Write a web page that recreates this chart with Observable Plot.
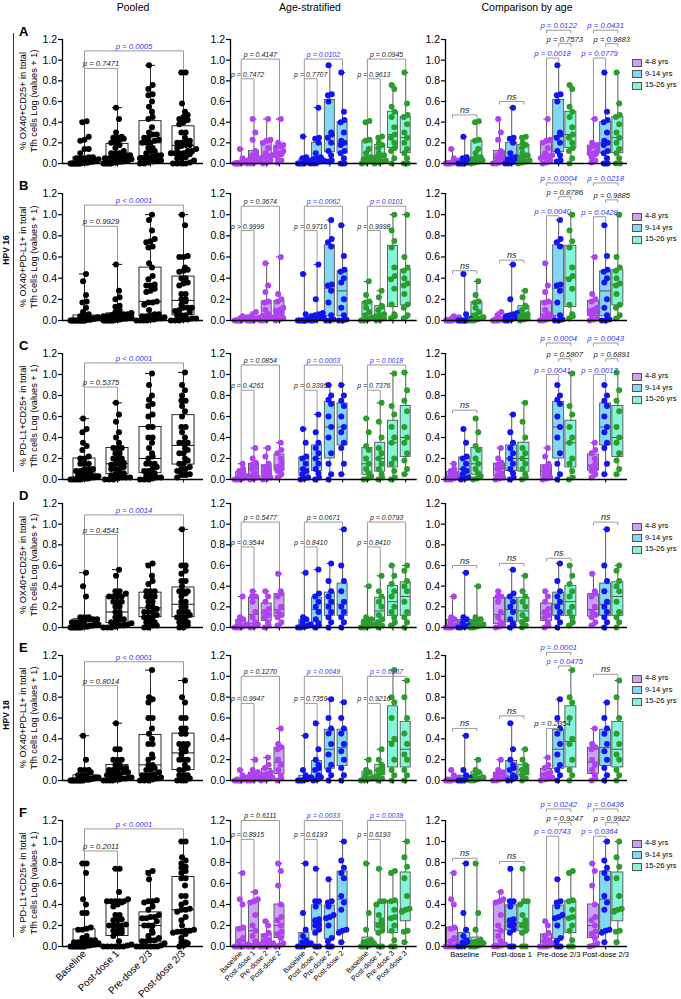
<!DOCTYPE html>
<html><head><meta charset="utf-8">
<script src="https://cdn.jsdelivr.net/npm/d3@7"></script>
<script src="https://cdn.jsdelivr.net/npm/@observablehq/plot@0.6"></script>
<style>
body{margin:0;background:#fff;font-family:"Liberation Sans",Arial,sans-serif;}
#page{position:relative;width:681px;height:999px;overflow:hidden;background:#fff;}
.abs{position:absolute;white-space:nowrap;color:#000;}
</style></head><body><div id="page"></div><script>
// ---------------- categories / labels ----------------
const timepoints = ["Baseline","Post-dose 1","Pre-dose 2/3","Post-dose 2/3"];
const ageGroups = ["4-8 yrs","9-14 yrs","15-26 yrs"];
const stratTicks = ["Baseline","Post-dose 1","Pre-dose 2","Post-dose 2","Baseline","Post-dose 1","Pre-dose 2","Post-dose 2","Baseline","Post-dose 1","Pre-dose 3","Post-dose 3"];
const columnTitles = ["Pooled","Age-stratified","Comparison by age"];
const rowLetters = ["A","B","C","D","E","F"];
const rowYLabels = [
  ["% OX40+CD25+ in total","Tfh cells Log (values + 1)"],
  ["% OX40+PD-L1+ in total","Tfh cells Log (values + 1)"],
  ["% PD-L1+CD25+ in total","Tfh cells Log (values + 1)"],
  ["% OX40+CD25+ in total","Tfh cells Log (values + 1)"],
  ["% OX40+PD-L1+ in total","Tfh cells Log (values + 1)"],
  ["% PD-L1+CD25+ in total","Tfh cells Log (values + 1)"]
];
const hpvLabels = ["HPV 16","HPV 18"];
const yTicks = [0,0.2,0.4,0.6,0.8,1.0,1.2];

// ---------------- data: each array = [Baseline, Post-dose 1, Pre-dose, Post-dose] ----------------
const A_age4_8 = [
  [0,0,0,0,0.01,0.01,0.01,0.02,0.02,0.03,0.05,0.14],
  [0,0,0.01,0.02,0.03,0.04,0.06,0.08,0.1,0.12,0.23,0.3,0.43],
  [0,0.01,0.03,0.05,0.06,0.07,0.08,0.1,0.15,0.2,0.22,0.23,0.43],
  [0.01,0.03,0.06,0.09,0.1,0.1,0.12,0.15,0.17,0.18,0.2,0.43]];
const A_age9_14 = [
  [0,0,0,0,0.01,0.01,0.02,0.03,0.05,0.06,0.26],
  [0,0,0.01,0.02,0.03,0.04,0.05,0.06,0.1,0.2,0.24,0.25,0.54],
  [0.02,0.03,0.08,0.12,0.2,0.25,0.28,0.3,0.6,0.66,0.67,0.95],
  [0,0,0.05,0.1,0.12,0.18,0.2,0.22,0.3,0.4,0.42,0.5,0.88]];
const A_age15_26 = [
  [0,0.01,0.02,0.03,0.04,0.05,0.06,0.1,0.14,0.22,0.23,0.4,0.41],
  [0,0.01,0.02,0.03,0.05,0.07,0.08,0.1,0.15,0.18,0.2,0.25,0.26],
  [0,0.05,0.12,0.15,0.2,0.25,0.28,0.35,0.45,0.5,0.55,0.72,0.76],
  [0,0,0.05,0.1,0.14,0.2,0.25,0.3,0.38,0.45,0.47,0.58,0.88]];

const B_age4_8 = [
  [0,0,0,0,0,0.01,0.01,0.02,0.02,0.03,0.04],
  [0,0,0,0,0.01,0.01,0.02,0.02,0.03,0.05,0.08],
  [0,0,0.01,0.02,0.03,0.04,0.06,0.1,0.17,0.18,0.27,0.33,0.54],
  [0,0.01,0.02,0.05,0.08,0.09,0.1,0.12,0.18,0.2,0.25,0.6]];
const B_age9_14 = [
  [0,0,0,0,0,0,0.01,0.01,0.02,0.06,0.44],
  [0,0,0.01,0.02,0.03,0.03,0.04,0.05,0.06,0.07,0.2,0.53],
  [0,0,0.01,0.05,0.17,0.28,0.33,0.34,0.7,0.74,0.77,0.95],
  [0,0,0.01,0.05,0.12,0.2,0.36,0.4,0.46,0.48,0.61,0.9]];
const B_age15_26 = [
  [0,0,0.01,0.02,0.03,0.05,0.08,0.12,0.17,0.18,0.24,0.37],
  [0,0.01,0.02,0.04,0.05,0.06,0.1,0.13,0.14,0.22,0.28],
  [0.02,0.04,0.06,0.15,0.3,0.39,0.42,0.5,0.69,0.75,0.85,1.0],
  [0.02,0.05,0.12,0.15,0.25,0.33,0.35,0.4,0.47,0.5,0.6,1.0]];

const C_age4_8 = [
  [0,0,0,0.01,0.02,0.03,0.04,0.06,0.08,0.1,0.15],
  [0,0.01,0.02,0.04,0.06,0.1,0.12,0.14,0.16,0.2,0.3],
  [0,0.01,0.02,0.04,0.06,0.08,0.1,0.12,0.15,0.22,0.3],
  [0.02,0.05,0.08,0.1,0.12,0.15,0.2,0.25,0.28,0.35]];
const C_age9_14 = [
  [0,0.01,0.02,0.05,0.08,0.1,0.15,0.2,0.22,0.35,0.48],
  [0,0.02,0.06,0.1,0.15,0.2,0.25,0.3,0.35,0.45,0.62],
  [0,0.05,0.15,0.25,0.4,0.5,0.6,0.72,0.76,0.8,0.9],
  [0.05,0.15,0.3,0.35,0.45,0.5,0.6,0.7,0.75,0.8,0.9]];
const C_age15_26 = [
  [0,0.01,0.03,0.06,0.1,0.15,0.2,0.28,0.32,0.45,0.58],
  [0,0.02,0.05,0.1,0.15,0.2,0.25,0.3,0.4,0.55,0.73],
  [0,0.02,0.08,0.15,0.2,0.35,0.4,0.5,0.62,0.7,1.01],
  [0.05,0.1,0.18,0.25,0.35,0.4,0.5,0.65,0.75,0.85,1.02]];

const D_age4_8 = [
  [0,0,0,0.01,0.02,0.03,0.05,0.08,0.1,0.3],
  [0,0.01,0.03,0.05,0.1,0.15,0.25,0.3,0.3,0.35],
  [0,0.02,0.05,0.1,0.12,0.15,0.18,0.25,0.3,0.35],
  [0.02,0.05,0.1,0.12,0.15,0.2,0.3,0.33,0.35,0.52]];
const D_age9_14 = [
  [0,0,0.01,0.01,0.02,0.03,0.05,0.08,0.1,0.53],
  [0,0.02,0.04,0.08,0.15,0.2,0.25,0.3,0.33,0.56],
  [0,0.05,0.1,0.15,0.2,0.25,0.3,0.35,0.45,0.62],
  [0,0.05,0.1,0.15,0.2,0.25,0.35,0.45,0.6,0.95]];
const D_age15_26 = [
  [0,0,0.01,0.02,0.03,0.05,0.06,0.08,0.1,0.4],
  [0,0.02,0.05,0.08,0.12,0.2,0.25,0.3,0.35,0.5],
  [0.02,0.05,0.1,0.15,0.2,0.3,0.35,0.42,0.5,0.6],
  [0,0.05,0.1,0.15,0.25,0.35,0.4,0.45,0.55,0.6]];

const E_age4_8 = [
  [0,0,0,0,0.01,0.01,0.02,0.03,0.05,0.1],
  [0,0,0.01,0.02,0.03,0.05,0.06,0.08,0.1,0.2],
  [0,0.01,0.02,0.03,0.05,0.06,0.08,0.12,0.15,0.22],
  [0,0.02,0.05,0.1,0.15,0.2,0.3,0.32,0.35,0.5]];
const E_age9_14 = [
  [0,0,0,0.01,0.01,0.02,0.03,0.05,0.1,0.43],
  [0,0.01,0.03,0.05,0.1,0.12,0.15,0.2,0.3,0.55],
  [0,0.05,0.1,0.15,0.25,0.35,0.45,0.5,0.6,0.78],
  [0,0.05,0.12,0.2,0.28,0.35,0.45,0.5,0.6,0.75]];
const E_age15_26 = [
  [0,0,0.01,0.02,0.03,0.05,0.08,0.1,0.2],
  [0,0.02,0.05,0.08,0.1,0.12,0.15,0.2,0.3],
  [0,0.05,0.1,0.2,0.35,0.4,0.6,0.75,0.8,1.06],
  [0,0.05,0.1,0.2,0.25,0.35,0.45,0.6,0.8,0.96]];

const F_age4_8 = [
  [0,0,0,0,0.01,0.02,0.05,0.08,0.17,0.18,0.4,0.45,0.7],
  [0,0,0.01,0.02,0.05,0.1,0.15,0.2,0.3,0.42,0.43,0.45,0.52],
  [0,0,0,0.01,0.03,0.05,0.06,0.1,0.13,0.2,0.24],
  [0,0.01,0.03,0.08,0.12,0.14,0.2,0.25,0.28,0.4,0.58,0.72,0.79]];
const F_age9_14 = [
  [0,0,0.01,0.02,0.03,0.04,0.06,0.1,0.16,0.32,0.79],
  [0,0,0.13,0.16,0.2,0.21,0.25,0.26,0.38,0.43,0.43,0.74],
  [0,0,0.05,0.08,0.2,0.27,0.28,0.3,0.38,0.42,0.43,0.64],
  [0.04,0.13,0.15,0.16,0.35,0.42,0.48,0.65,0.7,0.75,0.82,1.0]];
const F_age15_26 = [
  [0,0,0,0.01,0.02,0.03,0.04,0.05,0.06,0.16,0.32,0.79],
  [0,0,0.13,0.15,0.2,0.2,0.25,0.3,0.4,0.43,0.43,0.74],
  [0,0,0.06,0.15,0.2,0.27,0.28,0.35,0.43,0.44,0.7,0.72],
  [0.04,0.14,0.15,0.33,0.35,0.36,0.48,0.65,0.76,0.85,1.0]];

const rowData = [
  [A_age4_8,A_age9_14,A_age15_26],[B_age4_8,B_age9_14,B_age15_26],[C_age4_8,C_age9_14,C_age15_26],
  [D_age4_8,D_age9_14,D_age15_26],[E_age4_8,E_age9_14,E_age15_26],[F_age4_8,F_age9_14,F_age15_26]];

// ---------------- significance annotations ----------------
const pooledP = [
  [["p = 0.7471",0,1,0.92,"k"],["p = 0.0005",0,3,1.09,"b"]],
  [["p = 0.9929",0,1,0.89,"k"],["p < 0.0001",0,3,1.09,"b"]],
  [["p = 0.5375",0,1,0.88,"k"],["p < 0.0001",0,3,1.11,"b"]],
  [["p = 0.4541",0,1,0.90,"k"],["p = 0.0014",0,3,1.09,"b"]],
  [["p = 0.8014",0,1,0.91,"k"],["p < 0.0001",0,3,1.14,"b"]],
  [["p = 0.2011",0,1,0.91,"k"],["p < 0.0001",0,3,1.12,"b"]]];
const ageLevels = [[0.82,1.01],[0.85,1.08],[0.85,1.09],[0.78,1.02],[0.74,1.0],[1.02,1.2]];
const ageP = [
  [["p = 0.7472","k","p = 0.4147","k"],["p = 0.7707","k","p = 0.0102","b"],["p = 0.9613","k","p = 0.0945","k"]],
  [["p > 0.9999","k","p = 0.3674","k"],["p = 0.9716","k","p = 0.0062","b"],["p = 0.9998","k","p = 0.0101","b"]],
  [["p = 0.4261","k","p = 0.0854","k"],["p = 0.3395","k","p = 0.0003","b"],["p = 0.7376","k","p = 0.0018","b"]],
  [["p = 0.9544","k","p = 0.5477","k"],["p = 0.8410","k","p = 0.0671","k"],["p = 0.8410","k","p = 0.0793","k"]],
  [["p = 0.9947","k","p = 0.1270","k"],["p = 0.7359","k","p = 0.0049","b"],["p = 0.9216","k","p = 0.0167","b"]],
  [["p = 0.8915","k","p = 0.6111","k"],["p = 0.6193","k","p = 0.0033","b"],["p = 0.6193","k","p = 0.0039","b"]]];
const compP = [
  [[0,0,2,0.47,"ns","k","s"],[1,0,2,0.60,"ns","k","s"],
   [2,0,1,1.02,"p = 0.0018","b","d"],[2,1,2,1.16,"p = 0.7573","k","s"],[2,0,2,1.29,"p = 0.0122","b","s"],
   [3,0,1,1.02,"p = 0.0779","b","d"],[3,1,2,1.16,"p = 0.9883","k","s"],[3,0,2,1.29,"p = 0.0431","b","s"]],
  [[0,0,2,0.47,"ns","k","s"],[1,0,2,0.57,"ns","k","s"],
   [2,0,1,0.99,"p = 0.0040","b","d"],[2,1,2,1.17,"p = 0.8786","k","s"],[2,0,2,1.30,"p = 0.0004","b","s"],
   [3,0,1,0.98,"p = 0.0428","b","d"],[3,1,2,1.14,"p = 0.9885","k","s"],[3,0,2,1.30,"p = 0.0218","b","s"]],
  [[0,0,2,0.66,"ns","k","s"],
   [2,0,1,1.00,"p = 0.0041","b","d"],[2,1,2,1.15,"p = 0.5807","k","s"],[2,0,2,1.30,"p = 0.0004","b","s"],
   [3,0,1,1.00,"p = 0.0017","b","d"],[3,1,2,1.15,"p = 0.6891","k","s"],[3,0,2,1.30,"p = 0.0043","b","s"]],
  [[0,0,2,0.60,"ns","k","s"],[1,0,2,0.62,"ns","k","s"],[2,0,2,0.67,"ns","k","s"],[3,0,2,1.02,"ns","k","s"]],
  [[0,0,2,0.50,"ns","k","s"],[1,0,2,0.62,"ns","k","s"],
   [2,0,1,0.50,"p = 0.2354","k","d"],[2,1,2,1.10,"p = 0.0475","b","s"],[2,0,2,1.23,"p = 0.0001","b","s"],
   [3,0,2,1.02,"ns","k","s"]],
  [[0,0,2,0.84,"ns","k","s"],[1,0,2,0.81,"ns","k","s"],
   [2,0,1,1.05,"p = 0.0743","b","d"],[2,1,2,1.18,"p = 0.9247","k","s"],[2,0,2,1.31,"p = 0.0242","b","s"],
   [3,0,1,1.05,"p = 0.0364","b","d"],[3,1,2,1.18,"p = 0.9922","k","s"],[3,0,2,1.31,"p = 0.0436","b","s"]]];

// ---------------- styles / layout ----------------
const dotColors = ["#b042f2","#1414f0","#2c9c2c"];
const boxFills = ["#caa2f2","#82d8f5","#84f5d8"];
const textColors = {k:"#222", b:"#3434f2"};
const rowY12 = [39,193,353,503,655,820];
const rowY0  = [163,320,479,627,780,946];
const page = document.getElementById("page");
const FONT = '"Liberation Sans", Arial, sans-serif';

function addText(txt, css) {
  const d = document.createElement("div");
  d.className = "abs"; d.innerHTML = txt;
  Object.assign(d.style, css);
  page.appendChild(d);
  return d;
}

function stats(v) {
  const s = [...v].sort(d3.ascending);
  return {min: s[0], q1: d3.quantile(s, 0.25), med: d3.quantile(s, 0.5), q3: d3.quantile(s, 0.75), max: s[s.length - 1]};
}

function swarm(values, pxY, d, half) {
  const order = d3.range(values.length).sort((a, b) => values[a] - values[b]);
  const off = new Array(values.length).fill(0);
  const bins = []; let cur = [];
  for (const i of order) {
    if (cur.length && (values[i] - values[cur[0]]) * pxY >= d) { bins.push(cur); cur = []; }
    cur.push(i);
  }
  if (cur.length) bins.push(cur);
  bins.forEach((b, bi) => {
    const n = b.length;
    let step = d;
    if (n > 1 && (n - 1) * step > 2 * half) step = 2 * half / (n - 1);
    b.forEach((i, k) => off[i] = (k - (n - 1) / 2) * step);
    if (n === 1) off[b[0]] = (bi % 2 ? 1 : -1) * d * 0.35;
  });
  return off;
}

function panel(cfg) {
  const {frameLeft, frameRight, y12, y0, xDomain, groups, brackets, MB, xTicks, xLabels, tickRotate, labelSize, pFont, boxStroke, whiskStroke} = cfg;
  const ML = 40, MR = 4, MT = 42;
  const width = ML + (frameRight - frameLeft) + MR;
  const height = MT + (y0 - y12) + MB;
  const pxX = (frameRight - frameLeft) / (xDomain[1] - xDomain[0]);
  const pxY = (y0 - y12) / 1.2;
  const boxes = [], meds = [], whisk = [], caps = [], dots = [];
  const maxAt = new Map();
  for (const g of groups) {
    const s = stats(g.values);
    maxAt.set(g.x, s.max);
    const hw = g.boxW / 2 / pxX, cw = g.capW / 2 / pxX;
    boxes.push({x1: g.x - hw, x2: g.x + hw, y1: s.q1, y2: s.q3, fill: g.fill});
    meds.push({x1: g.x - hw, x2: g.x + hw, y: s.med});
    whisk.push({x: g.x, y1: s.min, y2: s.q1}, {x: g.x, y1: s.q3, y2: s.max});
    caps.push({x1: g.x - cw, x2: g.x + cw, y: s.max}, {x1: g.x - cw, x2: g.x + cw, y: s.min});
    const offs = swarm(g.values, pxY, g.dotD, g.spread);
    g.values.forEach((v, i) => dots.push({x: g.x + offs[i] / pxX, y: v, fill: g.dot, r: g.r}));
  }
  const segs = [], texts = [];
  const shortL = 3 / pxY, gap = 2.5 / pxY;
  for (const b of brackets) {
    const legEnd = (x) => {
      if (b.mode === "s") return b.level - shortL;
      let e = maxAt.get(x) + gap;
      for (const o of brackets) if (o !== b && o.level < b.level && (o.xa === x || o.xb === x)) e = Math.max(e, o.level);
      if (e > b.level - shortL) e = b.level - shortL;
      return e;
    };
    segs.push({x1: b.xa, y1: legEnd(b.xa), x2: b.xa, y2: b.level});
    segs.push({x1: b.xa, y1: b.level, x2: b.xb, y2: b.level});
    segs.push({x1: b.xb, y1: b.level, x2: b.xb, y2: legEnd(b.xb)});
    texts.push({x: (b.xa + b.xb) / 2, y: b.level, text: b.label, fill: textColors[b.color], size: b.label === "ns" ? 9 : pFont});
  }
  const labelMap = new Map(xTicks.map((t, i) => [t, xLabels ? xLabels[i] : ""]));
  const svg = Plot.plot({
    width, height, marginLeft: ML, marginRight: MR, marginTop: MT, marginBottom: MB,
    x: {domain: xDomain, axis: null},
    y: {domain: [0, 1.2], axis: null},
    color: {type: "identity"},
    style: {background: "none", overflow: "visible", fontFamily: FONT, fontSize: "10px", color: "#000"},
    marks: [
      Plot.rect(boxes, {x1: "x1", x2: "x2", y1: "y1", y2: "y2", fill: "fill", stroke: boxStroke, strokeWidth: 0.9}),
      Plot.ruleX(whisk, {x: "x", y1: "y1", y2: "y2", stroke: whiskStroke, strokeWidth: 0.9}),
      Plot.ruleY(caps, {y: "y", x1: "x1", x2: "x2", stroke: whiskStroke, strokeWidth: 1}),
      Plot.ruleY(meds, {y: "y", x1: "x1", x2: "x2", stroke: boxStroke, strokeWidth: 1}),
      Plot.dot(dots, {x: "x", y: "y", r: "r", fill: "fill"}),
      Plot.link(segs, {x1: "x1", y1: "y1", x2: "x2", y2: "y2", stroke: "#9a9a9a", strokeWidth: 1}),
      ...d3.groups(texts, d => d.size).map(([size, ts]) =>
        Plot.text(ts, {x: "x", y: "y", text: "text", fill: "fill", fontSize: size, fontStyle: "italic", lineAnchor: "bottom", dy: -2})),
      Plot.ruleX([xDomain[0]], {y1: 0, y2: 1.2, stroke: "#000", strokeWidth: 1.3}),
      Plot.ruleY([0], {x1: xDomain[0], x2: xDomain[1], stroke: "#000", strokeWidth: 1.3}),
      Plot.axisY({ticks: yTicks, tickFormat: d => d.toFixed(1), tickSize: 4, tickPadding: 1.5, fontSize: 10.5, label: null, strokeWidth: 1.2}),
      Plot.axisX({ticks: xTicks, tickFormat: d => labelMap.get(d), tickSize: 3.5, tickPadding: 2, fontSize: labelSize || 10, tickRotate: tickRotate || 0, label: null, strokeWidth: 1.1})
    ]
  });
  const wrap = document.createElement("div");
  wrap.style.position = "absolute";
  wrap.style.left = (frameLeft - ML) + "px";
  wrap.style.top = (y12 - MT) + "px";
  wrap.appendChild(svg);
  page.appendChild(wrap);
}

// ---------------- titles ----------------
[133, 310, 527].forEach((cx, i) =>
  addText(columnTitles[i], {left: cx + "px", top: "1px", transform: "translateX(-50%)", fontSize: "10.5px"}));

// ---------------- rows ----------------
const ageBlock = 4.95, compBlock = 3.85;
rowData.forEach((ages, r) => {
  const y12 = rowY12[r], y0 = rowY0[r];
  const last = r === 5;
  const mb = last ? 53 : 8;
  addText(rowLetters[r], {left: "19px", top: (y12 - 15) + "px", fontSize: "13px", fontWeight: "bold"});
  addText(rowYLabels[r].join("<br>"), {left: "28px", top: ((y12 + y0) / 2) + "px", fontSize: "9.2px", lineHeight: "10.5px",
    textAlign: "center", transform: "translate(-50%,-50%) rotate(-90deg)"});

  // pooled
  const pooledGroups = timepoints.map((t, i) => ({
    x: i, values: [].concat(ages[0][i], ages[1][i], ages[2][i]), fill: "none", dot: "#000", r: 2.1,
    boxW: 22, capW: 10, dotD: 4.2, spread: 14}));
  panel({frameLeft: 62, frameRight: 203, y12, y0, xDomain: [-0.667, 3.606], groups: pooledGroups,
    brackets: pooledP[r].map(([label, a, b, level, color]) => ({xa: a, xb: b, level, label, color, mode: "d"})),
    MB: mb, xTicks: [0,1,2,3], xLabels: last ? timepoints : null, tickRotate: last ? -45 : 0, labelSize: 10,
    pFont: 7.7, boxStroke: "#111", whiskStroke: "#111"});

  // age-stratified
  const ageGroupsArr = [];
  ages.forEach((arr, a) => arr.forEach((vals, t) => ageGroupsArr.push({
    x: a * ageBlock + t, values: vals, fill: boxFills[a], dot: dotColors[a], r: 2, boxW: 10, capW: 6, dotD: 3.8, spread: 6.5})));
  const ageBr = [];
  ageP[r].forEach(([il, ic, ol, oc], a) => {
    ageBr.push({xa: a * ageBlock, xb: a * ageBlock + 1, level: ageLevels[r][0], label: il, color: ic, mode: "d"});
    ageBr.push({xa: a * ageBlock, xb: a * ageBlock + 3, level: ageLevels[r][1], label: ol, color: oc, mode: "d"});
  });
  const ageTicks = ageGroupsArr.map(g => g.x);
  panel({frameLeft: 230, frameRight: 416.7, y12, y0, xDomain: [-0.84, 13.8], groups: ageGroupsArr, brackets: ageBr,
    MB: mb, xTicks: ageTicks, xLabels: last ? stratTicks : null, tickRotate: last ? -45 : 0, labelSize: 7.4,
    pFont: 7, boxStroke: "#555", whiskStroke: "#444"});

  // comparison by age
  const compGroups = [];
  timepoints.forEach((t, ti) => ages.forEach((arr, a) => compGroups.push({
    x: ti * compBlock + a, values: arr[ti], fill: boxFills[a], dot: dotColors[a], r: 2, boxW: 11, capW: 5, dotD: 3.8, spread: 6.5})));
  const compBr = compP[r].map(([t, a, b, level, label, color, mode]) => ({
    xa: t * compBlock + a, xb: t * compBlock + b, level, label, color, mode}));
  panel({frameLeft: 445, frameRight: 627, y12, y0, xDomain: [-0.574, 14.34], groups: compGroups, brackets: compBr,
    MB: mb, xTicks: timepoints.map((t, i) => i * compBlock + 1), xLabels: last ? timepoints : null, tickRotate: 0, labelSize: 7.6,
    pFont: 7.7, boxStroke: "#555", whiskStroke: "#444"});

  // legend
  ageGroups.forEach((g, a) => {
    const y = y12 + 23 + a * 11.7;
    const sw = document.createElement("div");
    Object.assign(sw.style, {position: "absolute", left: "632px", top: (y - 3.5) + "px", width: "8px", height: "6px",
      background: boxFills[a], border: "1px solid #555"});
    page.appendChild(sw);
    addText(g, {left: "645px", top: (y - 5) + "px", fontSize: "7.6px", lineHeight: "10px"});
  });
});

// ---------------- HPV group labels and lines ----------------
[[33,472,250],[502,937,715]].forEach(([t, b, c], i) => {
  const ln = document.createElement("div");
  Object.assign(ln.style, {position: "absolute", left: "13px", top: t + "px", width: "0px", height: (b - t) + "px", borderLeft: "1.2px solid #333"});
  page.appendChild(ln);
  addText(hpvLabels[i], {left: "6px", top: c + "px", fontSize: "8.5px", fontWeight: "bold", transform: "translate(-50%,-50%) rotate(-90deg)"});
});
</script></body></html>
